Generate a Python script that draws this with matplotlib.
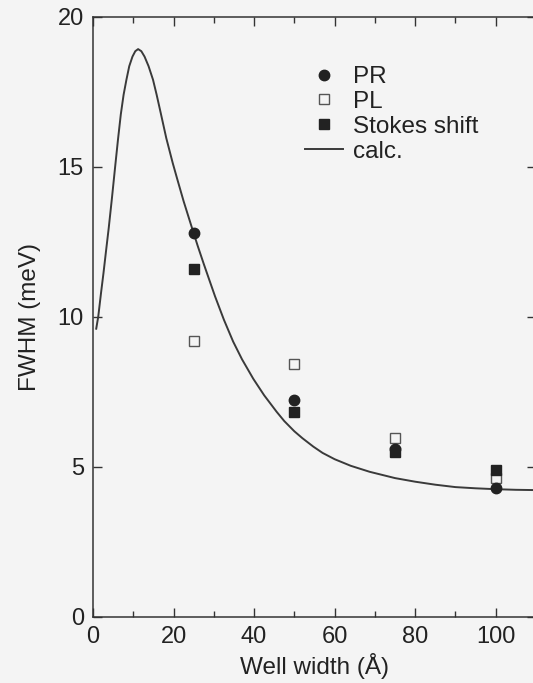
import matplotlib
matplotlib.use("Agg")
import matplotlib.pyplot as plt
from matplotlib.ticker import MultipleLocator

plt.rcParams['font.family'] = ['Liberation Sans', 'DejaVu Sans']

# ---- data ----
well_width = [25, 50, 75, 100]
pr_fwhm = [12.8, 7.24, 5.6, 4.28]
pl_fwhm = [9.19, 8.42, 5.95, 4.62]
stokes_fwhm = [11.6, 6.83, 5.5, 4.89]

calc_x = [0.8, 1.3, 2.0, 2.6, 3.2, 3.9, 4.7, 5.5, 6.2, 6.9, 7.6, 8.3, 9.0,
          9.8, 10.5, 11.2, 12.0, 12.8, 13.8, 14.9, 15.8, 16.8, 18.2, 19.8,
          21.0, 22.5, 24.6, 26.0, 27.5, 29.0, 30.3, 32.5, 34.8, 37.0, 39.8,
          42.5, 45.6, 47.5, 50.0, 52.0, 54.7, 57.0, 60.0, 64.0, 68.7, 72.0,
          75.0, 80.0, 85.0, 90.0, 95.0, 100.0, 105.0, 110.0]
calc_y = [9.6, 10.0, 10.8, 11.45, 12.15, 12.95, 13.95, 15.0, 15.9, 16.74, 17.4,
          17.9, 18.35, 18.67, 18.85, 18.92, 18.85, 18.67, 18.35, 17.9, 17.4,
          16.8, 15.95, 15.12, 14.55, 13.85, 12.95, 12.36, 11.76, 11.18, 10.68,
          9.9, 9.17, 8.58, 7.93, 7.38, 6.83, 6.52, 6.18, 5.95, 5.67, 5.46, 5.25,
          5.03, 4.83, 4.72, 4.62, 4.5, 4.4, 4.32, 4.28, 4.25, 4.23, 4.22]

x_ticks = [0, 20, 40, 60, 80, 100]
y_ticks = [0, 5, 10, 15, 20]

W, H = 533, 683
bg = '#f4f4f4'
ink = '#222222'
fig = plt.figure(figsize=(W / 100, H / 100), dpi=100, facecolor=bg)
ax = fig.add_axes([93 / W, 66.3 / H, 443 / W, 600 / H], facecolor=bg)

ax.plot(calc_x, calc_y, color='#3a3a3a', lw=1.4, label='calc.', zorder=2,
        solid_joinstyle='round')
ax.plot(well_width, pl_fwhm, 's', ms=7.5, mfc=bg, mec='#555555', mew=1.0,
        label='PL', zorder=3, linestyle='none')
ax.plot(well_width, pr_fwhm, 'o', ms=7.5, color=ink, label='PR', zorder=4,
        linestyle='none')
ax.plot(well_width, stokes_fwhm, 's', ms=7.5, color=ink, label='Stokes shift',
        zorder=5, linestyle='none')

ax.set_xlim(0, 110)
ax.set_ylim(0, 20)
ax.set_xticks(x_ticks)
ax.set_yticks(y_ticks)
ax.xaxis.set_minor_locator(MultipleLocator(10))

fs_tick = 17
fs = 17.5
ax.tick_params(which='both', direction='in', top=True, right=True,
               colors='#333333', labelcolor=ink, labelsize=fs_tick)
ax.tick_params(which='major', length=6.5, width=1.0)
ax.tick_params(which='minor', length=4, width=1.0)
ax.tick_params(axis='x', pad=7)
ax.tick_params(axis='y', pad=6.5)
for s in ax.spines.values():
    s.set_color('#333333')
    s.set_linewidth(1.1)

ax.set_xlabel('Well width (Å)', fontsize=fs, color=ink)
ax.set_ylabel('FWHM (meV)', fontsize=fs, color=ink)
ax.xaxis.set_label_coords(0.5, -0.061)
ax.yaxis.set_label_coords(-0.117, 0.5)

h = {l.get_label(): l for l in ax.get_lines()}
order = ['PR', 'PL', 'Stokes shift', 'calc.']
leg = ax.legend([h[k] for k in order], order, loc='upper left',
                bbox_to_anchor=(305 / W, (H - 66) / H),
                bbox_transform=fig.transFigure, frameon=False, fontsize=fs,
                handlelength=1.55, handletextpad=0.42, borderpad=0,
                borderaxespad=0, labelspacing=0.12)
for t in leg.get_texts():
    t.set_color(ink)

fig.savefig('out.png', dpi=100, facecolor=bg)
